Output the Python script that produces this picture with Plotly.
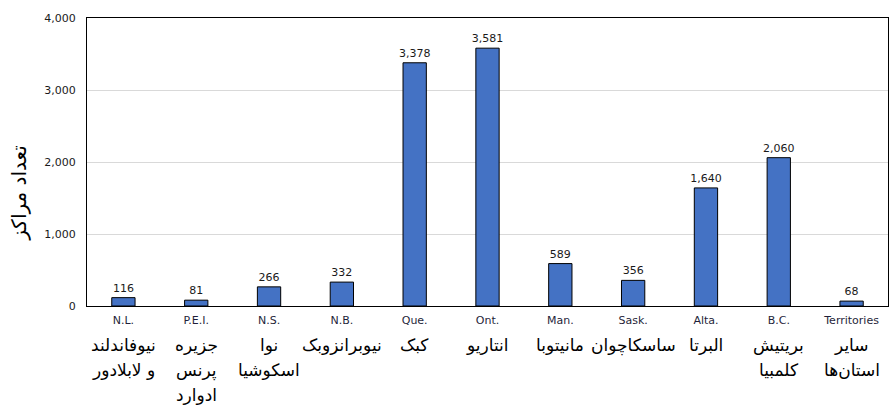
import plotly.graph_objects as go

# Provinces / territories: English abbreviation and Persian name (lines split by "|")
abbr = ["N.L.", "P.E.I.", "N.S.", "N.B.", "Que.", "Ont.", "Man.", "Sask.", "Alta.", "B.C.", "Territories"]
names_fa = [
    "نیوفاندلند|و لابلادور",
    "جزیره|پرنس|ادوارد",
    "نوا|اسکوشیا",
    "نیوبرانزوبک",
    "کبک",
    "انتاریو",
    "مانیتوبا",
    "ساسکاچوان",
    "البرتا",
    "بریتیش|کلمبیا",
    "سایر|استان\u200cها",
]
counts = [116, 81, 266, 332, 3378, 3581, 589, 356, 1640, 2060, 68]
y_ticks = [0, 1000, 2000, 3000, 4000]

FONT = "DejaVu Sans"

fig = go.Figure(
    go.Bar(
        x=abbr,
        y=counts,
        marker=dict(color="#4472C4", line=dict(color="#000000", width=1)),
        text=[f"{v:,}" for v in counts],
        textposition="outside",
        constraintext="none",
        textfont=dict(family=FONT, size=11, color="#1a1a1a"),
        cliponaxis=False,
    )
)

# Persian category names below the English abbreviations, one annotation per line
annotations = []
for cat, name in zip(abbr, names_fa):
    for j, line in enumerate(name.split("|")):
        annotations.append(
            dict(
                text=line,
                x=cat,
                xref="x",
                y=0,
                yref="paper",
                xanchor="center",
                yanchor="middle",
                yshift=-(39 + 25 * j),
                showarrow=False,
                font=dict(family=FONT, size=17, color="#000"),
            )
        )

annotations.append(
    dict(
        text="تعداد مراکز",
        xref="paper",
        yref="paper",
        x=(19 - 87) / 801,
        y=0.39,
        xanchor="center",
        yanchor="middle",
        textangle=-90,
        showarrow=False,
        font=dict(family=FONT, size=20, color="#000"),
    )
)

fig.update_layout(
    width=891,
    height=413,
    margin=dict(l=87, r=3, t=18, b=107),
    paper_bgcolor="white",
    plot_bgcolor="white",
    bargap=0.68,
    showlegend=False,
    font=dict(family=FONT, color="#000"),
    annotations=annotations,
)

fig.update_xaxes(
    tickangle=0,
    showline=True,
    linecolor="#000",
    linewidth=1,
    mirror=True,
    showgrid=False,
    ticks="",
    ticklabelstandoff=4,
    tickfont=dict(family=FONT, size=11, color="#1f1f3a"),
)

fig.update_yaxes(
    range=[0, 4000],
    tickmode="array",
    tickvals=y_ticks,
    ticktext=[f"{v:,}" for v in y_ticks],
    showline=True,
    linecolor="#000",
    linewidth=1,
    mirror=True,
    showgrid=True,
    gridcolor="#d9d9d9",
    zeroline=False,
    ticks="",
    ticklabelstandoff=8,
    tickfont=dict(family=FONT, size=11, color="#1a1a1a"),
)

fig.write_html("out.html")
